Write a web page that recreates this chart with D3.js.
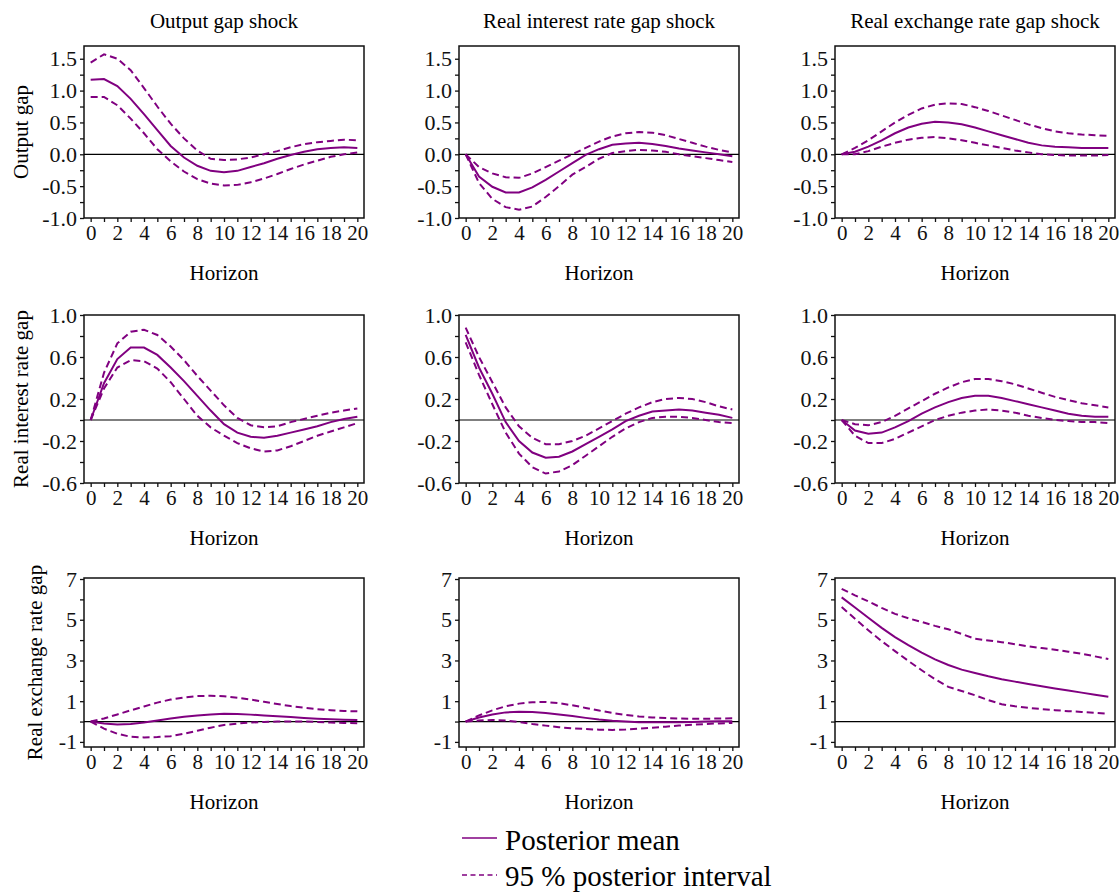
<!DOCTYPE html>
<html>
<head>
<meta charset="utf-8">
<script src="https://cdn.jsdelivr.net/npm/d3@7"></script>
<style>
body { margin:0; background:#fff; }
svg { display:block; }
svg text { font-family: "Liberation Serif", "Times New Roman", serif; }
</style>
</head>
<body>
<div id="chart"></div>
<script>
// horizon (quarters)
var horizon = [0,1,2,3,4,5,6,7,8,9,10,11,12,13,14,15,16,17,18,19,20]
var shocks = ["Output gap shock", "Real interest rate gap shock", "Real exchange rate gap shock"]
var variables = ["Output gap", "Real interest rate gap", "Real exchange rate gap"]

var rowTicks = [[-1.0,-0.5,0.0,0.5,1.0,1.5], [-0.6,-0.2,0.2,0.6,1.0], [-1,1,3,5,7]]
var rowMinor = [[-0.75,-0.25,0.25,0.75,1.25], [-0.4,0.0,0.4,0.8], [0,2,4,6]]
var rowFormat = [".1f", ".1f", "d"]
var xTicks = [0,2,4,6,8,10,12,14,16,18,20]
var xMinor = [1,3,5,7,9,11,13,15,17,19]

// row 1 : output gap
var og_og_mean = [1.17,1.18,1.07,0.87,0.63,0.38,0.13,-0.05,-0.18,-0.26,-0.28,-0.26,-0.2,-0.14,-0.07,-0.01,0.04,0.08,0.1,0.11,0.1]
var og_og_up   = [1.44,1.57,1.5,1.32,1.04,0.75,0.48,0.25,0.06,-0.07,-0.09,-0.08,-0.05,0.0,0.05,0.11,0.16,0.19,0.21,0.23,0.22]
var og_og_lo   = [0.9,0.9,0.77,0.56,0.33,0.08,-0.11,-0.27,-0.39,-0.46,-0.49,-0.48,-0.44,-0.38,-0.31,-0.23,-0.16,-0.1,-0.04,0.0,0.03]
var og_rr_mean = [0,-0.35,-0.51,-0.6,-0.6,-0.52,-0.4,-0.27,-0.14,-0.01,0.08,0.15,0.17,0.18,0.16,0.13,0.09,0.06,0.03,0.0,-0.03]
var og_rr_up   = [0,-0.2,-0.3,-0.36,-0.37,-0.3,-0.2,-0.1,0.0,0.1,0.2,0.28,0.33,0.35,0.34,0.3,0.24,0.18,0.12,0.07,0.03]
var og_rr_lo   = [0,-0.45,-0.7,-0.83,-0.87,-0.82,-0.67,-0.5,-0.32,-0.2,-0.07,0.02,0.05,0.07,0.06,0.04,0.0,-0.03,-0.06,-0.09,-0.12]
var og_rx_mean = [0,0.04,0.12,0.22,0.33,0.42,0.48,0.51,0.5,0.47,0.42,0.36,0.3,0.24,0.18,0.14,0.12,0.11,0.1,0.1,0.1]
var og_rx_up   = [0,0.1,0.22,0.36,0.5,0.62,0.72,0.78,0.8,0.79,0.74,0.68,0.61,0.54,0.47,0.41,0.36,0.33,0.31,0.3,0.29]
var og_rx_lo   = [0,0.0,0.05,0.12,0.18,0.23,0.26,0.27,0.25,0.22,0.18,0.14,0.1,0.06,0.03,0.0,-0.01,-0.02,-0.02,-0.02,-0.01]

// row 2 : real interest rate gap
var rr_og_mean = [0,0.35,0.58,0.69,0.69,0.62,0.5,0.37,0.23,0.09,-0.04,-0.12,-0.16,-0.17,-0.15,-0.12,-0.09,-0.06,-0.02,0.01,0.03]
var rr_og_up   = [0,0.45,0.73,0.84,0.86,0.81,0.7,0.57,0.42,0.28,0.14,0.02,-0.05,-0.07,-0.06,-0.02,0.01,0.04,0.07,0.09,0.11]
var rr_og_lo   = [0,0.3,0.5,0.57,0.56,0.49,0.36,0.2,0.04,-0.07,-0.15,-0.22,-0.27,-0.3,-0.29,-0.25,-0.2,-0.15,-0.11,-0.07,-0.03]
var rr_rr_mean = [0.81,0.5,0.25,-0.02,-0.2,-0.31,-0.36,-0.35,-0.3,-0.23,-0.16,-0.09,-0.01,0.04,0.08,0.09,0.1,0.09,0.07,0.05,0.02]
var rr_rr_up   = [0.88,0.6,0.36,0.12,-0.06,-0.17,-0.23,-0.23,-0.2,-0.15,-0.08,-0.01,0.06,0.12,0.17,0.2,0.21,0.2,0.17,0.13,0.1]
var rr_rr_lo   = [0.74,0.43,0.15,-0.12,-0.32,-0.45,-0.51,-0.49,-0.43,-0.34,-0.25,-0.16,-0.08,-0.02,0.02,0.03,0.03,0.02,0.0,-0.02,-0.03]
var rr_rx_mean = [0,-0.1,-0.13,-0.12,-0.07,-0.01,0.06,0.12,0.17,0.21,0.23,0.23,0.21,0.18,0.15,0.12,0.09,0.06,0.04,0.03,0.03]
var rr_rx_up   = [0,-0.04,-0.05,-0.02,0.04,0.11,0.18,0.25,0.31,0.36,0.39,0.39,0.37,0.34,0.3,0.26,0.22,0.19,0.16,0.14,0.12]
var rr_rx_lo   = [0,-0.15,-0.22,-0.22,-0.18,-0.12,-0.06,0.0,0.04,0.07,0.09,0.1,0.09,0.07,0.04,0.02,0.0,-0.01,-0.02,-0.02,-0.03]

// row 3 : real exchange rate gap
var rx_og_mean = [0,-0.1,-0.15,-0.12,-0.05,0.05,0.15,0.24,0.3,0.35,0.38,0.37,0.34,0.3,0.26,0.22,0.18,0.14,0.11,0.09,0.08]
var rx_og_up   = [0,0.15,0.35,0.55,0.74,0.93,1.08,1.18,1.25,1.27,1.24,1.17,1.08,0.97,0.86,0.76,0.68,0.61,0.56,0.52,0.5]
var rx_og_lo   = [0,-0.35,-0.6,-0.75,-0.78,-0.76,-0.72,-0.6,-0.45,-0.3,-0.17,-0.1,-0.05,-0.02,0.0,0.0,0.0,-0.02,-0.05,-0.07,-0.08]
var rx_rr_mean = [0,0.2,0.35,0.45,0.48,0.47,0.42,0.35,0.27,0.18,0.1,0.04,0.0,-0.03,-0.04,-0.04,-0.03,-0.02,0.0,0.01,0.02]
var rx_rr_up   = [0,0.3,0.55,0.75,0.88,0.95,0.96,0.9,0.8,0.67,0.54,0.42,0.32,0.25,0.2,0.17,0.15,0.14,0.14,0.15,0.16]
var rx_rr_lo   = [0,0.05,0.08,0.05,-0.02,-0.12,-0.2,-0.28,-0.33,-0.37,-0.4,-0.41,-0.39,-0.35,-0.3,-0.25,-0.2,-0.16,-0.12,-0.09,-0.07]
var rx_rx_mean = [6.1,5.6,5.1,4.6,4.15,3.75,3.38,3.05,2.78,2.55,2.38,2.22,2.08,1.96,1.84,1.73,1.62,1.52,1.42,1.32,1.22]
var rx_rx_up   = [6.52,6.2,5.9,5.58,5.29,5.07,4.89,4.7,4.53,4.3,4.07,3.98,3.9,3.8,3.69,3.61,3.53,3.43,3.33,3.2,3.07]
var rx_rx_lo   = [5.62,5.05,4.48,3.95,3.46,2.98,2.52,2.08,1.7,1.5,1.29,1.05,0.85,0.75,0.67,0.61,0.56,0.51,0.47,0.43,0.39]

var panels = [
  [[og_og_mean,og_og_up,og_og_lo],[og_rr_mean,og_rr_up,og_rr_lo],[og_rx_mean,og_rx_up,og_rx_lo]],
  [[rr_og_mean,rr_og_up,rr_og_lo],[rr_rr_mean,rr_rr_up,rr_rr_lo],[rr_rx_mean,rr_rx_up,rr_rx_lo]],
  [[rx_og_mean,rx_og_up,rx_og_lo],[rx_rr_mean,rx_rr_up,rx_rr_lo],[rx_rx_mean,rx_rx_up,rx_rx_lo]]
]

var purple = "#800080"
var font = "Liberation Serif"

var svg = d3.select('#chart')
    .append('svg')
    .attr('width', 1120)
    .attr('height', 892)
    .attr('font-family', font)

// layout of the grid
var colLeft = [84, 459, 835]
var plotW = 280
var rowTop = [46, 315, 578]
var rowBot = [218, 483, 747]
var rowDomain = [[-1.0, 1.7], [-0.6, 1.0], [-1.25, 7.05]]
var labelX = [28, 28, 42]

var x = d3.scaleLinear().domain([-0.5, 20.5]).range([0, plotW])

// plain hyphen instead of the unicode minus d3 puts in
function fmt(spec) {
  var f = d3.format(spec)
  return function(d) { return f(d).replace('\u2212', '-') }
}

shocks.forEach(function(s, c) {
  svg.append('text')
    .attr('x', colLeft[c] + plotW/2)
    .attr('y', 28)
    .attr('text-anchor', 'middle')
    .attr('font-family', font)
    .attr('font-size', 21)
    .text(s)
})

variables.forEach(function(v, r) {
  svg.append('text')
    .attr('transform', 'translate(' + labelX[r] + ',' + (rowTop[r]+rowBot[r])/2 + ') rotate(-90)')
    .attr('text-anchor', 'middle')
    .attr('font-family', font)
    .attr('font-size', 21)
    .text(v)
})

for (var r = 0; r < 3; r++) {
  for (var c = 0; c < 3; c++) {
    var g = svg.append('g').attr('transform', 'translate(' + colLeft[c] + ',' + rowTop[r] + ')')
    var h = rowBot[r] - rowTop[r]
    var y = d3.scaleLinear().domain(rowDomain[r]).range([h, 0])

    // axes
    var ax = g.append('g').attr('transform', 'translate(0,' + h + ')')
      .call(d3.axisBottom(x).tickValues(xTicks).tickSize(4).tickPadding(3).tickFormat(fmt('d')))
    var axm = g.append('g').attr('transform', 'translate(0,' + h + ')')
      .call(d3.axisBottom(x).tickValues(xMinor).tickSize(4).tickFormat(''))
    var ay = g.append('g')
      .call(d3.axisLeft(y).tickValues(rowTicks[r]).tickSize(4).tickPadding(3).tickFormat(fmt(rowFormat[r])))
    var aym = g.append('g')
      .call(d3.axisLeft(y).tickValues(rowMinor[r]).tickSize(4).tickFormat(''))
    ;[ax, axm, ay, aym].forEach(function(a) {
      a.attr('font-family', font).attr('font-size', 21)
      a.select('.domain').remove()
      a.selectAll('line').attr('stroke', '#111').attr('stroke-width', 1.3)
      a.selectAll('text').attr('fill', '#111')
    })
    ay.attr('font-size', 22)

    // frame
    g.append('rect')
      .attr('width', plotW)
      .attr('height', h)
      .attr('fill', 'none')
      .attr('stroke', '#111')
      .attr('stroke-width', 1.5)

    // zero line
    g.append('line')
      .attr('x1', 0).attr('x2', plotW)
      .attr('y1', y(0)).attr('y2', y(0))
      .attr('stroke', '#000')
      .attr('stroke-width', 1.2)

    var line = d3.line()
      .x(function(d, i) { return x(horizon[i]) })
      .y(function(d) { return y(d) })

    var set = panels[r][c]
    g.append('path').datum(set[1])
      .attr('d', line).attr('fill', 'none')
      .attr('stroke', purple).attr('stroke-width', 2)
      .attr('stroke-dasharray', '7,4')
    g.append('path').datum(set[2])
      .attr('d', line).attr('fill', 'none')
      .attr('stroke', purple).attr('stroke-width', 2)
      .attr('stroke-dasharray', '7,4')
    g.append('path').datum(set[0])
      .attr('d', line).attr('fill', 'none')
      .attr('stroke', purple).attr('stroke-width', 2)

    g.append('text')
      .attr('x', plotW/2)
      .attr('y', h + 62)
      .attr('text-anchor', 'middle')
      .attr('font-family', font)
      .attr('font-size', 21)
      .text('Horizon')
  }
}

// legend
var leg = svg.append('g').attr('font-family', font).attr('font-size', 29)
leg.append('line').attr('x1', 462).attr('x2', 497).attr('y1', 838).attr('y2', 838)
  .attr('stroke', purple).attr('stroke-width', 1.6)
leg.append('text').attr('x', 505).attr('y', 850).text('Posterior mean')
leg.append('line').attr('x1', 462).attr('x2', 497).attr('y1', 875).attr('y2', 875)
  .attr('stroke', purple).attr('stroke-width', 1.6).attr('stroke-dasharray', '5,3.5')
leg.append('text').attr('x', 505).attr('y', 886).text('95 % posterior interval')
</script>
</body>
</html>
